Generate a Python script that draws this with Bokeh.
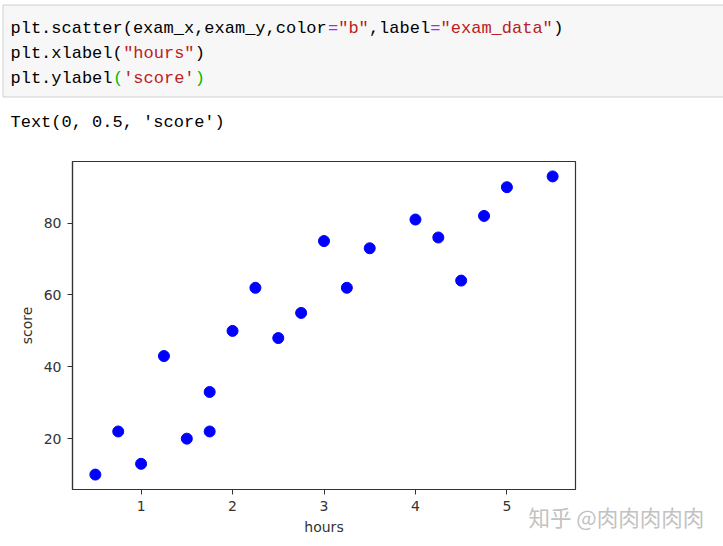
from bokeh.plotting import figure
from bokeh.models import Range1d, FixedTicker, BoxAnnotation, ColumnDataSource
from bokeh.core.properties import value
from bokeh.embed import file_html
from bokeh.resources import INLINE

# ---- data ----
hours = [0.5, 0.75, 1.0, 1.25, 1.5, 1.75, 1.75, 2.0, 2.25, 2.5,
         2.75, 3.0, 3.25, 3.5, 4.0, 4.25, 4.5, 4.75, 5.0, 5.5]
score = [10, 22, 13, 43, 20, 22, 33, 50, 62, 48,
         55, 75, 62, 73, 81, 76, 64, 82, 90, 93]
x_ticks = [1, 2, 3, 4, 5]
y_ticks = [20, 40, 60, 80]

# code cell segments: (text, colour) per line
BLACK, STR, OP, MATCH = "#000000", "#ba2121", "#aa22ff", "#00bb00"
code_lines = [
    [("plt.scatter(exam_x,exam_y,color", BLACK), ("=", OP), ('"b"', STR),
     (",label", BLACK), ("=", OP), ('"exam_data"', STR), (")", BLACK)],
    [("plt.xlabel(", BLACK), ('"hours"', STR), (")", BLACK)],
    [("plt.ylabel", BLACK), ("(", MATCH), ("'score'", STR), (")", MATCH)],
]
output_text = "Text(0, 0.5, 'score')"
watermark = ["知乎 @肉肉肉肉肉"]

W = 723
TOP_H = 150
BOT_H = 396
MONO = "Liberation Mono"
CHAR_W = 10.24

# ---- top: notebook cell, drawn in page-pixel coordinates ----
top = figure(width=W, height=TOP_H, x_range=Range1d(0, W), y_range=Range1d(TOP_H, 0),
             output_backend="svg", toolbar_location=None, min_border=0)
top.axis.visible = False
top.grid.visible = False
top.outline_line_color = None
top.add_layout(BoxAnnotation(left=2.5, right=W + 20, top=4.5, bottom=96.5,
                             fill_color="#f7f7f7", fill_alpha=1.0,
                             line_color="#cfcfcf", line_width=1, line_alpha=1.0,
                             level="underlay"))
xs, ys, ts, cs = [], [], [], []
line_y = [28, 53, 78]
for ly, segs in zip(line_y, code_lines):
    pos = 0
    for txt, col in segs:
        xs.append(10 + pos * CHAR_W)
        ys.append(ly)
        ts.append(txt)
        cs.append(col)
        pos += len(txt)
xs.append(10); ys.append(122); ts.append(output_text); cs.append(BLACK)
top.text(x="x", y="y", text="t", text_color="c",
         source=ColumnDataSource(dict(x=xs, y=ys, t=ts, c=cs)),
         text_font=value(MONO), text_font_size="17px",
         text_baseline="middle", text_align="left")

# ---- bottom: scatter chart ----
p = figure(width=W, height=BOT_H, x_range=Range1d(0.25, 5.75), y_range=Range1d(5.85, 97.15),
           output_backend="svg", toolbar_location=None,
           min_border_left=72, min_border_right=W - 575,
           min_border_top=161 - TOP_H, min_border_bottom=TOP_H + BOT_H - 489)
p.grid.visible = False
p.outline_line_color = "#333333"
p.outline_line_width = 1.2
p.scatter(hours, score, size=11, fill_color="#0000ff", line_color="#0000ff")

for ax in (p.xaxis[0], p.yaxis[0]):
    ax.axis_line_color = "#333333"
    ax.axis_line_width = 1.2
    ax.major_tick_line_color = "#333333"
    ax.major_tick_out = 5
    ax.major_tick_in = 0
    ax.minor_tick_line_color = None
    ax.major_label_text_font = "DejaVu Sans"
    ax.major_label_text_font_size = "14px"
    ax.major_label_text_color = "#333333"
    ax.axis_label_text_font = "DejaVu Sans"
    ax.axis_label_text_font_size = "14px"
    ax.axis_label_text_font_style = "normal"
    ax.axis_label_text_color = "#333333"
p.xaxis[0].ticker = FixedTicker(ticks=x_ticks)
p.yaxis[0].ticker = FixedTicker(ticks=y_ticks)
p.xaxis[0].major_label_standoff = 6
p.yaxis[0].major_label_standoff = 6
p.xaxis[0].axis_label = "hours"
p.yaxis[0].axis_label = "score"
p.xaxis[0].axis_label_standoff = 5
p.yaxis[0].axis_label_standoff = 6

# ---- watermark, laid over the bottom-right corner ----
WM_L, WM_T, WM_W, WM_H = 520, 500, 200, 34
wm = figure(width=WM_W, height=WM_H, x_range=Range1d(0, WM_W), y_range=Range1d(WM_H, 0),
            output_backend="svg", toolbar_location=None, min_border=0,
            styles={"position": "absolute", "left": f"{WM_L}px", "top": f"{WM_T}px"})
wm.axis.visible = False
wm.grid.visible = False
wm.outline_line_color = None
wm.background_fill_alpha = 0
wm.border_fill_alpha = 0
wm.text(x=[528 - WM_L], y=[516 - WM_T], text=watermark,
        text_font=value("Noto Sans CJK SC"), text_font_size="21.5px",
        text_color="#c2c2c2", text_baseline="middle", text_align="left")

open("out.html", "w").write(file_html([top, p, wm], INLINE))
